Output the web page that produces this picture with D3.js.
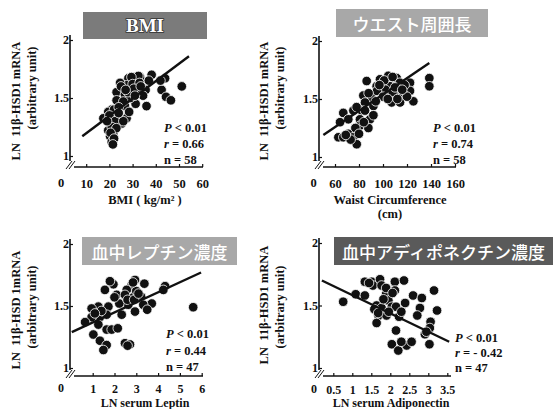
<!DOCTYPE html>
<html>
<head>
<meta charset="utf-8">
<script src="https://cdn.jsdelivr.net/npm/d3@7"></script>
<style>
  body { margin: 0; background: #fff; }
  svg { display: block; }
  text { font-family: 'Liberation Serif', 'Times New Roman', serif; font-weight: bold; fill: #111; }
  .jp { font-family: 'Noto Sans CJK JP', sans-serif; font-weight: 500; fill: #fff; }
</style>
</head>
<body>
<div id="chart"></div>
<script>
// Data
const yTicks = [1, 1.5, 2];

const bmiX = [38.2, 51.2, 44, 42.5, 44.4, 46.5, 36, 35.6, 31.3, 33.2, 31, 31.7, 28.2, 27.4, 24.6, 23.1, 26.7, 23.1, 26.7, 21,
  19.5, 23.1, 17.4, 27.4, 25.3, 20.3, 19.5, 21.7, 20.3, 21, 32.5, 29.5, 30, 33, 34.5, 29, 26, 22, 24, 20,
  22.5, 26, 21, 23, 20.5, 22, 21.5, 28, 30.5, 33.5, 25, 37, 42, 28.5, 24, 19, 27, 31];
const bmiY = [1.70, 1.60, 1.67, 1.57, 1.51, 1.48, 1.43, 1.57, 1.45, 1.68, 1.66, 1.55, 1.67, 1.61, 1.63, 1.55, 1.53, 1.48, 1.43, 1.40,
  1.38, 1.35, 1.325, 1.325, 1.28, 1.28, 1.22, 1.20, 1.17, 1.12, 1.69, 1.68, 1.62, 1.63, 1.52, 1.50, 1.47, 1.40, 1.42, 1.35,
  1.30, 1.30, 1.25, 1.24, 1.20, 1.15, 1.10, 1.55, 1.58, 1.60, 1.60, 1.65, 1.65, 1.38, 1.37, 1.30, 1.57, 1.52];
const bmiTicks = [10, 20, 30, 40, 50, 60];
const bmiFitX = [8.3, 54.3];
const bmiFitY = [1.17, 1.86];

const waistX = [138.6, 138.6, 86.4, 104.4, 97.5, 111.4, 114, 122.5, 105.8, 94.7, 98.9, 111.4, 122.5, 116.9, 125.3, 107.2, 114.2, 90.6, 83.6, 85,
  92, 82.2, 75.3, 66.9, 71.1, 64.2, 80.8, 89.2, 80.8, 87.8, 62.8, 66.9, 71.1, 75.3, 78.1, 101, 108, 118, 102, 108,
  95, 100, 104, 112, 120, 88, 78, 85, 92, 84, 77, 80, 73, 69, 97, 110, 116, 94];
const waistY = [1.68, 1.61, 1.655, 1.70, 1.67, 1.68, 1.64, 1.64, 1.61, 1.61, 1.555, 1.555, 1.57, 1.54, 1.48, 1.47, 1.47, 1.51, 1.53, 1.47,
  1.44, 1.40, 1.40, 1.38, 1.325, 1.30, 1.325, 1.325, 1.27, 1.25, 1.17, 1.17, 1.20, 1.17, 1.11, 1.66, 1.69, 1.62, 1.58, 1.56,
  1.57, 1.52, 1.50, 1.50, 1.52, 1.55, 1.43, 1.40, 1.36, 1.30, 1.25, 1.20, 1.15, 1.19, 1.62, 1.60, 1.58, 1.48];
const waistTicks = [60, 80, 100, 120, 140, 160];
const waistFitX = [50.3, 138.6];
const waistFitY = [1.19, 1.81];

const leptinX = [5.61, 4.32, 4.24, 3.71, 3.37, 2.94, 2.79, 3.22, 2.86, 2.56, 3.32, 2.94, 2.63, 2.22, 2.10, 2.48, 1.95, 1.79, 1.56, 1.72,
  2.33, 1.26, 0.95, 1.33, 0.95, 0.65, 1.26, 1.64, 1.64, 1.87, 2.15, 1.03, 1.33, 1.64, 1.49, 2.48, 2.71, 3.0, 2.6, 1.4,
  2.9, 3.1, 2.6, 2.0, 1.1, 3.5, 2.85];
const leptinY = [1.49, 1.66, 1.63, 1.52, 1.68, 1.71, 1.67, 1.575, 1.57, 1.63, 1.51, 1.455, 1.51, 1.52, 1.59, 1.59, 1.675, 1.70, 1.63, 1.495,
  1.43, 1.495, 1.48, 1.41, 1.41, 1.37, 1.35, 1.43, 1.31, 1.31, 1.32, 1.27, 1.22, 1.185, 1.145, 1.20, 1.19, 1.62, 1.55, 1.46,
  1.55, 1.60, 1.18, 1.57, 1.44, 1.47, 1.69];
const leptinTicks = [1, 2, 3, 4, 5, 6];
const leptinFitX = [0.04, 5.97];
const leptinFitY = [1.29, 1.77];

const adipoX = [0.76, 1.09, 1.33, 1.33, 1.51, 1.54, 1.73, 1.77, 1.89, 1.89, 2.12, 2.36, 2.12, 1.95, 1.64, 1.77, 2.04, 2.15, 2.39, 1.69,
  1.90, 2.23, 1.64, 2.15, 2.60, 2.83, 3.15, 2.78, 2.71, 3.23, 3.06, 3.04, 2.91, 3.03, 2.04, 2.21, 2.43, 2.56, 1.58, 1.96,
  2.06, 1.44, 2.29, 1.82, 2.95, 1.68, 2.29];
const adipoY = [1.53, 1.59, 1.58, 1.69, 1.69, 1.66, 1.71, 1.66, 1.59, 1.64, 1.69, 1.70, 1.62, 1.54, 1.50, 1.48, 1.49, 1.49, 1.52, 1.42,
  1.42, 1.41, 1.36, 1.30, 1.58, 1.56, 1.62, 1.48, 1.42, 1.46, 1.37, 1.32, 1.27, 1.19, 1.19, 1.14, 1.18, 1.21, 1.47, 1.45,
  1.60, 1.68, 1.45, 1.55, 1.29, 1.44, 1.21];
const adipoTicks = [0.5, 1, 1.5, 2, 2.5, 3, 3.5];
const adipoFitX = [0.2, 3.55];
const adipoFitY = [1.70, 1.21];

const W = 553, H = 409;
const svg = d3.select('#chart').append('svg')
  .attr('width', W)
  .attr('height', H);

const yTitle = 'LN\u00a0\u00a011β-HSD1 mRNA';

const panels = [
  {
    xs: bmiX, ys: bmiY, ticks: bmiTicks, fitX: bmiFitX, fitY: bmiFitY,
    xDomain: [0, 60], xRange: [63, 202.2], yRange: [156, 40], axisX: 70, axisY: 167, xEnd: 203, zeroX: 61,
    tickBase: 20.5, titleBase: 36.5, tickFont: 12.5,
    yLabel: yTitle, yLabelC: 101, yParenC: 88, yLabX: 16,
    title: 'BMI', titleBox: [83, 12, 124, 27], titleFill: '#7b7b7b', latin: true,
    xTitle: ['BMI ( kg/m² )'], xTitleX: 145,
    stats: ['P', ' < 0.01', 'r', ' = 0.66', 'n = 58'], statsX: 164, statsY: 132, statsGap: 16
  },
  {
    xs: waistX, ys: waistY, ticks: waistTicks, fitX: waistFitX, fitY: waistFitY,
    xDomain: [60, 160], xRange: [335, 455], yRange: [157, 41], axisX: 319, axisY: 167, xEnd: 456, zeroX: 313.5,
    tickBase: 20.5, titleBase: 36.5, tickFont: 12.5,
    yLabel: yTitle, yLabelC: 101, yParenC: 88, yLabX: 264,
    title: 'ウエスト周囲長', titleBox: [336, 9, 152, 28], titleFill: '#a8a8a8',
    xTitle: ['Waist Circumference', '(cm)'], xTitleX: 390,
    stats: ['P', ' < 0.01', 'r', ' = 0.74', 'n = 58'], statsX: 433, statsY: 132, statsGap: 16
  },
  {
    xs: leptinX, ys: leptinY, ticks: leptinTicks, fitX: leptinFitX, fitY: leptinFitY,
    xDomain: [0, 6], xRange: [70.9, 201.7], yRange: [368, 244], axisX: 70, axisY: 376, xEnd: 203, zeroX: 61,
    tickBase: 16.5, titleBase: 30.5, tickFont: 12,
    yLabel: 'LN\u00a0\u00a011β-HSD 1mRNA', yLabelC: 310, yParenC: 307, yLabX: 16,
    title: '血中レプチン濃度', titleBox: [82, 237, 155, 28], titleFill: '#a8a8a8',
    xTitle: ['LN serum Leptin'], xTitleX: 145,
    stats: ['P', ' < 0.01', 'r', ' = 0.44', 'n = 47'], statsX: 166, statsY: 338, statsGap: 16.5
  },
  {
    xs: adipoX, ys: adipoY, ticks: adipoTicks, fitX: adipoFitX, fitY: adipoFitY,
    xDomain: [0, 3.5], xRange: [314.3, 447.3], yRange: [368, 243], axisX: 319, axisY: 376, xEnd: 451, zeroX: 314,
    tickBase: 17.5, titleBase: 30.5, tickFont: 12,
    yLabel: yTitle, yLabelC: 305, yParenC: 307, yLabX: 264,
    title: '血中アディポネクチン濃度', titleBox: [334, 237, 219, 28], titleFill: '#5a5a5a',
    xTitle: ['LN serum Adiponectin'], xTitleX: 391,
    stats: ['P', ' < 0.01', 'r', ' = - 0.42', 'n = 47'], statsX: 455, statsY: 342, statsGap: 15
  }
];

panels.forEach(p => {
  const g = svg.append('g');
  const x = d3.scaleLinear().domain(p.xDomain).range(p.xRange);
  const y = d3.scaleLinear().domain([1, 2]).range(p.yRange);

  // y axis
  g.append('line')
    .attr('x1', p.axisX).attr('x2', p.axisX)
    .attr('y1', y(2) - 5).attr('y2', p.axisY - 6)
    .attr('stroke', '#111').attr('stroke-width', 1.6);

  const yAxis = g.append('g')
    .attr('transform', `translate(${p.axisX},0)`)
    .call(d3.axisLeft(y).tickValues(yTicks).tickSize(-3).tickPadding(1).tickFormat(d3.format('')));
  yAxis.select('.domain').remove();
  yAxis.selectAll('line').attr('stroke', '#111').attr('stroke-width', 1.2);
  yAxis.selectAll('text').attr('font-size', 12).attr('font-family', null).attr('fill', '#111');

  // x axis
  g.append('line')
    .attr('x1', p.axisX + 4).attr('x2', p.xEnd)
    .attr('y1', p.axisY).attr('y2', p.axisY)
    .attr('stroke', '#111').attr('stroke-width', 1.6);

  const xAxis = g.append('g')
    .attr('transform', `translate(0,${p.axisY})`)
    .call(d3.axisBottom(x).tickValues(p.ticks).tickSize(-3).tickFormat(d3.format('')));
  xAxis.select('.domain').remove();
  xAxis.selectAll('line').attr('stroke', '#111').attr('stroke-width', 1.2);
  xAxis.selectAll('text')
    .attr('font-size', p.tickFont).attr('font-family', null).attr('fill', '#111')
    .attr('y', p.tickBase).attr('dy', null);

  // "0" at the broken corner
  g.append('text')
    .attr('x', p.zeroX)
    .attr('y', p.axisY + p.tickBase - 1)
    .attr('text-anchor', 'middle')
    .attr('font-size', p.tickFont)
    .text('0');

  // break marks
  [0, 3].forEach(o => {
    g.append('line')
      .attr('x1', p.axisX - 4 + o).attr('y1', p.axisY + 2)
      .attr('x2', p.axisX + 2 + o).attr('y2', p.axisY - 6)
      .attr('stroke', '#111').attr('stroke-width', 1);
  });

  // points
  g.selectAll('.dot')
    .data(p.xs.map((d, i) => [d, p.ys[i]]))
    .enter()
    .append('circle')
    .attr('cx', d => x(d[0]))
    .attr('cy', d => y(d[1]))
    .attr('r', 4.8)
    .attr('fill', '#111')
    .attr('stroke', '#fff')
    .attr('stroke-width', 0.8);

  // regression line
  g.append('line')
    .attr('x1', x(p.fitX[0])).attr('y1', y(p.fitY[0]))
    .attr('x2', x(p.fitX[1])).attr('y2', y(p.fitY[1]))
    .attr('stroke', '#111').attr('stroke-width', 2.4);

  // stats
  const st = g.append('g').attr('font-size', 12.5);
  const t1 = st.append('text').attr('x', p.statsX).attr('y', p.statsY);
  t1.append('tspan').attr('font-style', 'italic').text(p.stats[0]);
  t1.append('tspan').text(p.stats[1]);
  const t2 = st.append('text').attr('x', p.statsX).attr('y', p.statsY + p.statsGap);
  t2.append('tspan').attr('font-style', 'italic').text(p.stats[2]);
  t2.append('tspan').text(p.stats[3]);
  st.append('text').attr('x', p.statsX).attr('y', p.statsY + 2 * p.statsGap).text(p.stats[4]);

  // y axis titles
  g.append('text')
    .attr('transform', `translate(${p.yLabX},${p.yLabelC}) rotate(-90)`)
    .attr('text-anchor', 'middle')
    .attr('dominant-baseline', 'central')
    .attr('font-size', 12.5)
    .text(p.yLabel);
  g.append('text')
    .attr('transform', `translate(${p.yLabX + 16},${p.yParenC}) rotate(-90)`)
    .attr('text-anchor', 'middle')
    .attr('dominant-baseline', 'central')
    .attr('font-size', 12.5)
    .text('(arbitrary unit)');

  // x axis title
  p.xTitle.forEach((t, i) => {
    g.append('text')
      .attr('x', p.xTitleX)
      .attr('y', p.axisY + p.titleBase + i * 14.5)
      .attr('text-anchor', 'middle')
      .attr('font-size', p.tickFont)
      .text(t);
  });

  // title box
  const b = p.titleBox;
  g.append('rect')
    .attr('x', b[0]).attr('y', b[1])
    .attr('width', b[2]).attr('height', b[3])
    .attr('fill', p.titleFill);
  const tt = g.append('text')
    .attr('x', b[0] + b[2] / 2)
    .attr('y', b[1] + b[3] / 2)
    .attr('text-anchor', 'middle')
    .attr('dominant-baseline', 'central')
    .text(p.title);
  if (p.latin) {
    tt.attr('font-family', "'Liberation Sans', Arial, sans-serif")
      .attr('font-size', 19)
      .style('fill', '#fff')
      .attr('stroke', '#333')
      .attr('stroke-width', 1.6)
      .attr('paint-order', 'stroke');
  } else {
    tt.attr('class', 'jp').attr('font-size', 17);
  }
});
</script>
</body>
</html>
